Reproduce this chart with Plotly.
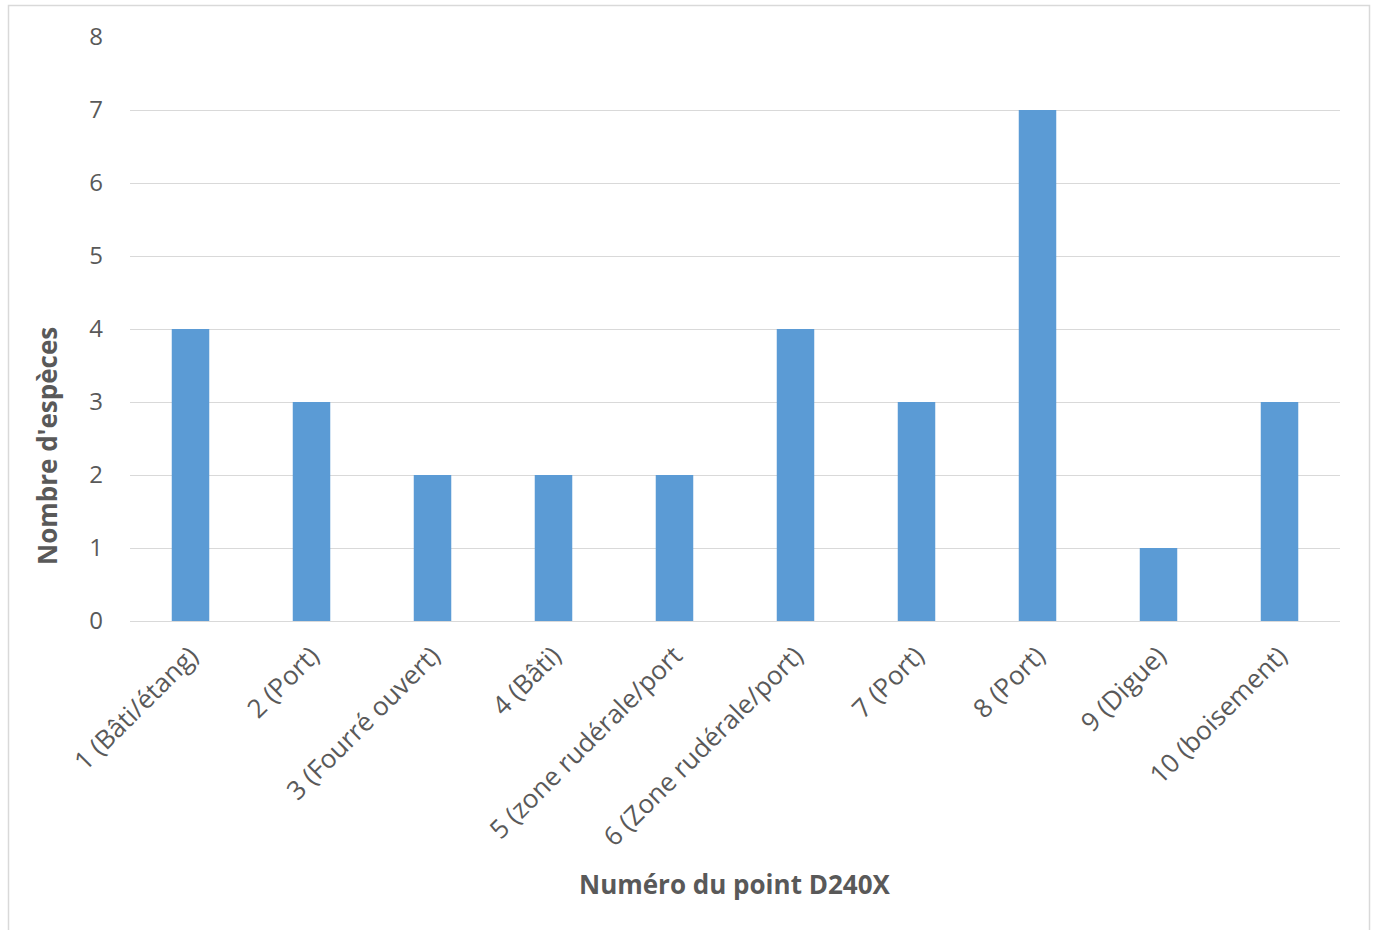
import plotly.graph_objects as go

categories = ["1 (Bâti/étang)", "2 (Port)", "3 (Fourré ouvert)", "4 (Bâti)",
              "5 (zone rudérale/port", "6 (Zone rudérale/port)", "7 (Port)",
              "8 (Port)", "9 (Digue)", "10 (boisement)"]
values = [4, 3, 2, 2, 2, 4, 3, 7, 1, 3]
y_ticks = [0, 1, 2, 3, 4, 5, 6, 7, 8]

W, H = 1375, 930
L, R, T, B = 130, 35, 37, 309
pw, ph = W - L - R, H - T - B

def px_x(p):
    return (p - L) / pw

def px_y(p):
    return (H - B - p) / ph

font = "Open Sans"
col = "#595959"

fig = go.Figure(go.Bar(x=categories, y=values, marker_color="#5b9bd5",
                       marker_line_width=0))
fig.update_layout(
    width=W, height=H,
    margin=dict(l=L, r=R, t=T, b=B),
    paper_bgcolor="white", plot_bgcolor="white",
    bargap=0.69,
    showlegend=False,
    font=dict(family=font, color=col, size=20),
)
fig.update_xaxes(tickangle=-45, tickfont=dict(size=26, color=col, family=font),
                 showgrid=False, showline=True, linecolor="#d9d9d9", linewidth=1.3,
                 ticks="", ticklabelstandoff=8, fixedrange=True)
fig.update_yaxes(range=[0, 8], tickvals=y_ticks, showgrid=True, gridcolor="#d9d9d9",
                 gridwidth=1.3, zeroline=False, showline=False, ticks="",
                 ticklabelstandoff=26, tickfont=dict(size=24, color=col, family=font))
fig.add_annotation(text="<b>Nombre d'espèces</b>", textangle=-90, xref="paper", yref="paper",
                   x=px_x(47), y=px_y(446), xanchor="center", yanchor="middle",
                   showarrow=False, font=dict(size=26, color=col, family=font))
fig.add_annotation(text="<b>Numéro du point D240X</b>", xref="paper", yref="paper",
                   x=px_x(735), y=px_y(884), xanchor="center", yanchor="middle",
                   showarrow=False, font=dict(size=26, color=col, family=font))
fig.add_shape(type="rect", xref="paper", yref="paper",
              x0=px_x(8.5), x1=px_x(1369.5), y0=px_y(940), y1=px_y(5.5),
              line=dict(color="#d9d9d9", width=1.5), fillcolor="rgba(0,0,0,0)")
fig.write_html("out.html")
